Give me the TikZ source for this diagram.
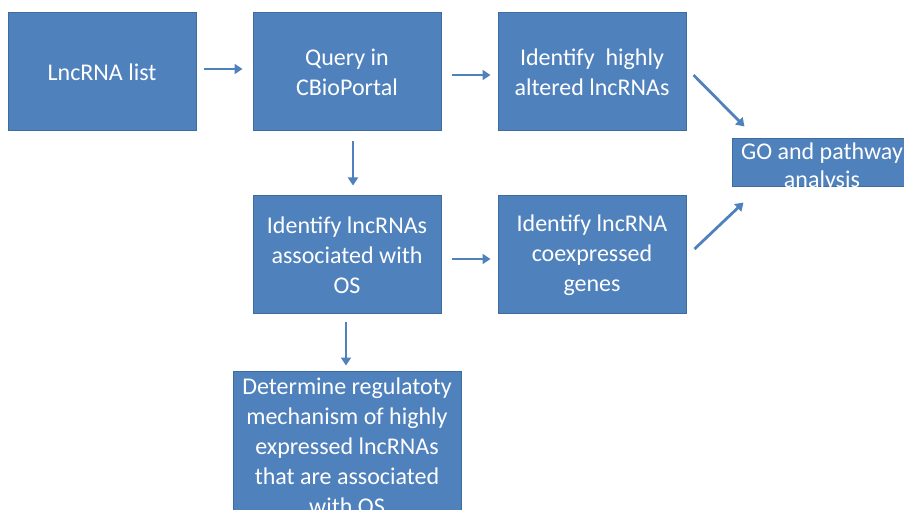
\documentclass[tikz,border=0pt]{standalone}
\usepackage{fontspec}
\setmainfont{Carlito}
\usepackage{tikz}
\usetikzlibrary{arrows.meta}
\definecolor{boxblue}{HTML}{4F81BD}
\definecolor{edgeblue}{HTML}{3F6C9E}
\tikzset{box/.style = {rectangle, draw=edgeblue, line width=1pt, fill=boxblue, text=white,
                       align=center, inner sep=0pt, minimum width=188, minimum height=118,
                       font=\fontsize{24}{30}\selectfont},
         arr/.style = {draw=boxblue, line width=2.8pt, -{Triangle[length=8pt, width=10pt]}}}

\begin{document}
\begin{tikzpicture}[x=1pt, y=-1pt]
        \useasboundingbox (0,0) rectangle (904,510);

        \node [box] (list)    at (102,72)  {LncRNA list};
        \node [box] (query)   at (347,72)  {Query in\\CBioPortal};
        \node [box] (altered) at (592,72)  {Identify~ highly\\altered lncRNAs};
        \node [box] (os)      at (347,255) {Identify lncRNAs\\associated with\\OS};
        \node [box] (coexp)   at (592,255) {Identify lncRNA\\coexpressed\\genes};
        \node [box, minimum width=180, minimum height=48, text depth=0pt] (go) at (822,163)
              {\raisebox{-4pt}{\shortstack{GO and pathway\\[4pt]analysis}}};
        \node [box, minimum width=228, minimum height=150] (mech) at (347,446)
              {Determine regulatoty\\mechanism of highly\\expressed lncRNAs\\that are associated\\with OS};

        \draw [arr] ([shift={(7,-3)}]list.east)   -- ([shift={(-10,-3)}]query.west);
        \draw [arr] ([shift={(10,3)}]query.east)  -- ([shift={(-7,3)}]altered.west);
        \draw [arr] ([shift={(6,10)}]query.south) -- ([shift={(6,-10)}]os.north);
        \draw [arr] ([shift={(10,4)}]os.east)     -- ([shift={(-7,4)}]coexp.west);
        \draw [arr] ([shift={(-1,7)}]os.south)    -- ([shift={(-1,-5)}]mech.north);
        \draw [arr] ([shift={(7,3)}]altered.east) -- ([shift={(13,-12)}]go.north west);
        \draw [arr] ([shift={(8,-6)}]coexp.east)  -- ([shift={(12,15)}]go.south west);
    \end{tikzpicture}
\end{document}
